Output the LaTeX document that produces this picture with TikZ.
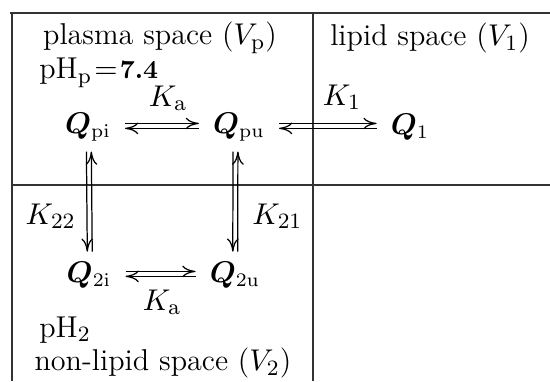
\documentclass[tikz,border=0pt]{standalone}
\usepackage{amsmath}
\usepackage{bm}
\usepackage{tikz}
\usetikzlibrary{arrows.meta}
\tikzset{
  >={To[length=1.7mm,width=1.5mm]},
  font=\fontsize{11}{13}\selectfont,
  wall/.style={line width=0.5pt, draw=black!80},
  comp/.style={inner sep=1pt, font=\fontsize{10.5}{12}\selectfont},
  lab/.style={inner sep=1pt},
  fwd/.style={->, line width=0.45pt},
  bwd/.style={<-, line width=0.45pt},
  hgap/.style={shorten <=4pt, shorten >=4pt},
  vgap/.style={shorten <=2.5pt, shorten >=2.5pt},
}
\newcommand{\Qc}[1]{\bm{Q}_{\mathrm{#1}}}
\begin{document}
\begin{tikzpicture}[x=0.01284cm,y=-0.01284cm]
\useasboundingbox (0,0) rectangle (550,381);

% compartment walls
\draw[wall] (10,13) -- (550,13);
\draw[wall] (12,13) -- (12,381);
\draw[wall] (313,13) -- (313,381);
\draw[wall] (12,185) -- (550,185);

% compartment titles
\node[lab] (ptitle) at (160,38) {plasma space ($V_{\mathrm{p}}$)};
\node[lab] (ltitle) at (430,38) {lipid space ($V_1$)};
\node[lab] (ntitle) at (163,363) {non-lipid space ($V_2$)};
\node[lab, anchor=west] (php) at (36,73) {pH$_{\mathrm{p}}$\kern0.8pt$=$\kern0.8pt{\fontsize{9.5}{11}\selectfont\bfseries 7.4}};
\node[lab, anchor=west] (ph2) at (36,330) {pH$_2$};

% species
\node[comp] (pi) at (88,127) {$\Qc{pi}$};
\node[comp] (pu) at (239,127) {$\Qc{pu}$};
\node[comp] (l1) at (410,127) {$\Qc{1}$};
\node[comp] (ti) at (89,275) {$\Qc{2i}$};
\node[comp] (tu) at (235,275) {$\Qc{2u}$};

% rate labels
\node[lab] (ka) at (168,98) {$K_{\mathrm{a}}$};
\node[lab] (k1) at (342,97) {$K_1$};
\node[lab] (kb) at (162,302) {$K_{\mathrm{a}}$};
\node[lab, anchor=east] (k22) at (79,216) {$K_{22}$};
\node[lab, anchor=west] (k21) at (249,216) {$K_{21}$};

% horizontal equilibria
\draw[fwd, hgap] ([yshift=1.3pt]pi.east) -- ([yshift=1.3pt]pu.west);
\draw[bwd, hgap] ([yshift=-0.5pt]pi.east) -- ([yshift=-0.5pt]pu.west);
\draw[fwd, hgap] ([yshift=1.3pt]pu.east) -- ([yshift=1.3pt]l1.west);
\draw[bwd, hgap] ([yshift=-0.5pt]pu.east) -- ([yshift=-0.5pt]l1.west);
\draw[fwd, hgap] ([yshift=1.3pt]ti.east) -- ([yshift=1.3pt]tu.west);
\draw[bwd, hgap] ([yshift=-0.5pt]ti.east) -- ([yshift=-0.5pt]tu.west);

% vertical exchanges
\draw[fwd, vgap] ([xshift=-0.6pt]pi.south) -- ([xshift=-0.6pt]ti.north);
\draw[bwd, vgap] ([xshift=1.2pt]pi.south) -- ([xshift=1.2pt]ti.north);
\draw[fwd, vgap] ([xshift=-2.2pt]pu.south) -- ([xshift=-0.8pt]tu.north);
\draw[bwd, vgap] ([xshift=-0.4pt]pu.south) -- ([xshift=1pt]tu.north);

\end{tikzpicture}
\end{document}
